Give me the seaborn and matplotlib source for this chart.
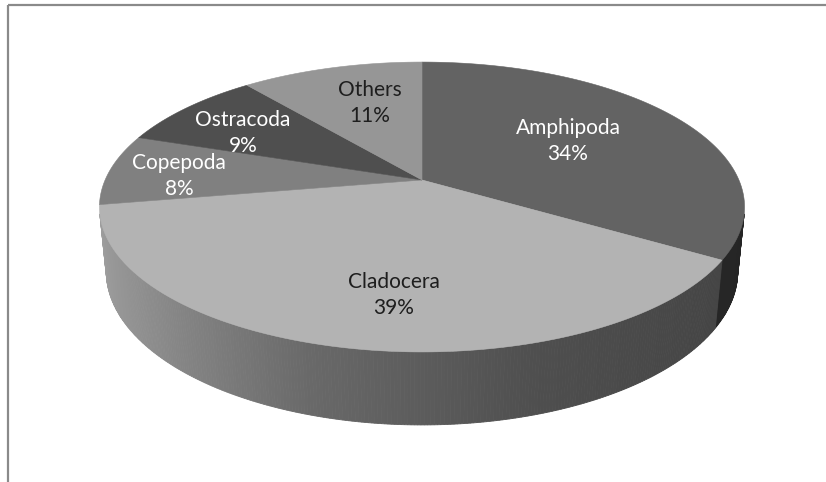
import numpy as np
import matplotlib
matplotlib.use("Agg")
import matplotlib.pyplot as plt
import seaborn as sns
from matplotlib.patches import Polygon, Rectangle

# -----------------------------
# Data
# -----------------------------
groups = ["Amphipoda", "Cladocera", "Copepoda", "Ostracoda", "Others"]
shares = [34, 39, 8, 9, 11]

# grey level of each slice top, label colour
top_grey = [0.39, 0.70, 0.50, 0.31, 0.59]
text_col = ["white", "#1e1e1e", "white", "white", "#1e1e1e"]

# label centre (name line) in pixels
label_pos = [(568, 128), (394, 282), (179, 163), (243, 120), (370, 90)]

sns.set_style("white")
plt.rcParams["font.family"] = ["Lato", "DejaVu Sans"]

# -----------------------------
# Simple perspective camera for a 3D pie
# -----------------------------
elev = np.radians(26.2)
dist = 4.817
focal = 1526.5
depth_h = 0.2268
cx, cy = 422, 180


def project(X, Y, Z):
    s, c = np.sin(elev), np.cos(elev)
    d = dist + Y * c - Z * s
    up = Y * s + Z * c
    return cx + focal * X / d, cy - focal * up / d


def shade(nx):
    # side lighting: lighter to the left, darker to the right
    return np.interp(nx, [-1, -0.3, 0.3, 0.85, 1], [0.89, 0.59, 0.44, 0.385, 0.37])


frac = np.array(shares) / np.sum(shares)
edges = np.concatenate([[0], np.cumsum(frac) * 360])

fig = plt.figure(figsize=(8.26, 4.82), dpi=100)
ax = fig.add_axes([0, 0, 1, 1])
ax.set_xlim(0, 826)
ax.set_ylim(482, 0)
ax.axis("off")

# visible part of the side wall (silhouette angles)
n_y = -1 / (dist * np.cos(elev))
th_r = np.degrees(np.arccos(n_y))
th_l = 360 - th_r

# side walls
for i in range(len(groups)):
    a = max(edges[i], th_r)
    b = min(edges[i + 1], th_l)
    if b <= a:
        continue
    ts = np.radians(np.linspace(a, b, int((b - a) * 2) + 2))
    for t0, t1 in zip(ts[:-1], ts[1:]):
        X = np.sin([t0, t1, t1, t0])
        Y = np.cos([t0, t1, t1, t0])
        Z = np.array([0, 0, -depth_h, -depth_h])
        px, py = project(X, Y, Z)
        g = top_grey[i] * shade(np.sin((t0 + t1) / 2))
        col = (g, g, g)
        ax.add_patch(Polygon(np.column_stack([px, py]), closed=True,
                             facecolor=col, edgecolor=col, lw=0.6, zorder=1))

# top face
for i in range(len(groups)):
    ts = np.radians(np.linspace(edges[i], edges[i + 1], 200))
    X = np.concatenate([[0], np.sin(ts)])
    Y = np.concatenate([[0], np.cos(ts)])
    px, py = project(X, Y, np.zeros_like(X))
    g = top_grey[i]
    ax.add_patch(Polygon(np.column_stack([px, py]), closed=True,
                         facecolor=(g, g, g), edgecolor=(g, g, g), lw=0.4, zorder=2))

# labels
for i in range(len(groups)):
    x, y = label_pos[i]
    ax.text(x, y, groups[i], ha="center", va="center", fontsize=15,
            color=text_col[i], zorder=3)
    ax.text(x, y + 26, f"{shares[i]}%", ha="center", va="center", fontsize=15,
            color=text_col[i], zorder=3)

# chart frame
ax.add_patch(Rectangle((8, 5), 900, 600, fill=False, edgecolor="#8a8a8a", lw=1.6, zorder=4))

fig.savefig("out.png", dpi=100)
